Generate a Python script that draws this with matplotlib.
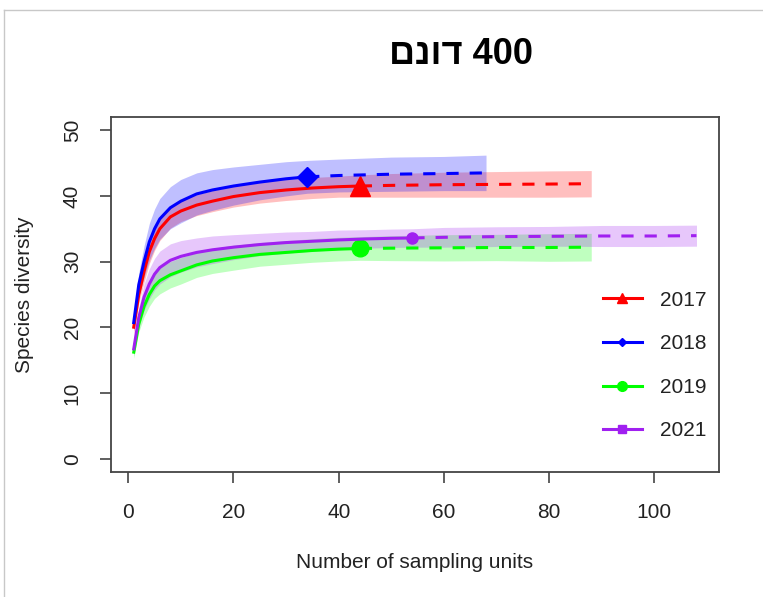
import matplotlib
matplotlib.use("Agg")
import matplotlib.pyplot as plt
from matplotlib.lines import Line2D

plt.rcParams['font.family'] = ['Liberation Sans', 'DejaVu Sans']

title_text = "םנוד 400"   # visual order of "400 דונם"
xlabel = "Number of sampling units"
ylabel = "Species diversity"
xticks = [0, 20, 40, 60, 80, 100]
yticks = [0, 10, 20, 30, 40, 50]

years = ["2017", "2018", "2019", "2021"]
colors = ["#FF0000", "#0000FF", "#00FF00", "#A020F0"]
observed_m = [44, 34, 44, 54]

x_2017 = [1, 2, 3, 4, 5, 6, 8, 10, 13, 16, 20, 25, 30, 35, 40, 44, 50, 60, 70, 80, 88]
y_2017 = [19.8, 25.0, 28.5, 31.5, 33.5, 35.0, 36.8, 37.7, 38.6, 39.2, 39.9, 40.5, 40.9, 41.2, 41.4, 41.5, 41.6, 41.7, 41.75, 41.8, 41.85]
lo_2017 = [19.0, 23.7, 26.9, 29.7, 31.7, 33.2, 35.1, 36.1, 37.0, 37.6, 38.3, 38.9, 39.3, 39.6, 39.8, 39.8, 39.8, 39.8, 39.8, 39.8, 39.85]
hi_2017 = [20.6, 26.3, 30.1, 33.3, 35.3, 36.8, 38.5, 39.3, 40.2, 40.8, 41.5, 42.1, 42.5, 42.8, 43.0, 43.2, 43.4, 43.6, 43.7, 43.8, 43.85]

x_2018 = [1, 2, 3, 4, 5, 6, 8, 10, 13, 16, 20, 25, 30, 34, 40, 50, 60, 68]
y_2018 = [20.5, 26.5, 30.0, 33.0, 35.0, 36.5, 38.2, 39.2, 40.3, 40.9, 41.5, 42.1, 42.6, 42.9, 43.1, 43.3, 43.4, 43.5]
lo_2018 = [19.5, 24.7, 27.6, 30.2, 32.0, 33.4, 35.0, 35.9, 37.1, 37.8, 38.6, 39.4, 40.0, 40.4, 40.6, 40.7, 40.8, 40.8]
hi_2018 = [21.5, 28.3, 32.4, 35.8, 38.0, 39.6, 41.4, 42.5, 43.5, 44.0, 44.4, 44.8, 45.2, 45.4, 45.6, 45.9, 46.0, 46.2]

x_2019 = [1, 2, 3, 4, 5, 6, 8, 10, 13, 16, 20, 25, 30, 35, 40, 44, 50, 60, 70, 80, 88]
y_2019 = [16.0, 20.5, 23.2, 25.0, 26.3, 27.1, 28.0, 28.6, 29.5, 30.1, 30.6, 31.1, 31.4, 31.7, 31.9, 32.0, 32.05, 32.1, 32.15, 32.15, 32.2]
lo_2019 = [15.3, 19.3, 21.6, 23.2, 24.4, 25.1, 26.0, 26.6, 27.6, 28.2, 28.7, 29.3, 29.6, 29.9, 30.1, 30.2, 30.15, 30.1, 30.15, 30.05, 30.1]
hi_2019 = [16.7, 21.7, 24.8, 26.8, 28.2, 29.1, 30.0, 30.6, 31.4, 32.0, 32.5, 32.9, 33.2, 33.5, 33.7, 33.8, 33.95, 34.1, 34.15, 34.25, 34.3]

x_2021 = [1, 2, 3, 4, 5, 6, 8, 10, 13, 16, 20, 25, 30, 35, 40, 45, 50, 54, 60, 70, 80, 90, 100, 108]
y_2021 = [16.5, 21.5, 24.6, 26.6, 28.1, 29.1, 30.2, 30.8, 31.4, 31.8, 32.2, 32.6, 32.9, 33.1, 33.3, 33.45, 33.55, 33.6, 33.7, 33.8, 33.85, 33.9, 33.9, 33.95]
lo_2021 = [15.7, 20.0, 22.6, 24.3, 25.7, 26.6, 27.7, 28.4, 29.2, 29.7, 30.3, 30.9, 31.3, 31.6, 31.8, 32.05, 32.15, 32.2, 32.2, 32.3, 32.35, 32.3, 32.3, 32.35]
hi_2021 = [17.3, 23.0, 26.6, 28.9, 30.5, 31.6, 32.7, 33.2, 33.6, 33.9, 34.1, 34.3, 34.5, 34.6, 34.8, 34.85, 34.95, 35.0, 35.2, 35.3, 35.35, 35.5, 35.5, 35.55]

series_x = [x_2017, x_2018, x_2019, x_2021]
series_y = [y_2017, y_2018, y_2019, y_2021]
series_lo = [lo_2017, lo_2018, lo_2019, lo_2021]
series_hi = [hi_2017, hi_2018, hi_2019, hi_2021]

plot_markers = ["^", "D", "o", "o"]
plot_msizes = [15, 10, 12, 8]
leg_markers = ["^", "D", "o", "s"]
leg_msizes = [7, 4.5, 7, 5.5]

fig = plt.figure(figsize=(7.63, 5.97), dpi=100)
ax = fig.add_axes([111/763, 1-472/597, (719-111)/763, (472-117)/597])

lw = 2.2
dash = (0, (4.0, 3.6))
for xs, ys, lo, hi, c, m, mk, ms in zip(series_x, series_y, series_lo, series_hi,
                                        colors, observed_m, plot_markers, plot_msizes):
    ax.fill_between(xs, lo, hi, color=c, alpha=0.25, linewidth=0)
    i = xs.index(m)
    ax.plot(xs[:i+1], ys[:i+1], color=c, lw=lw, solid_capstyle='butt')
    ax.plot(xs[i:], ys[i:], color=c, lw=lw, linestyle=dash)
    ax.plot([xs[i]], [ys[i]], marker=mk, markersize=ms, color=c, linestyle='none')

ax.set_xlim(-3.28, 112.28)
ax.set_ylim(-2, 52)
ax.set_xticks(xticks)
ax.set_yticks(yticks)
ax.set_xticklabels([str(t) for t in xticks])
ax.set_yticklabels([str(t) for t in yticks], rotation=90, va='center')

for s in ax.spines.values():
    s.set_color('#444444')
    s.set_linewidth(1.3)

ax.tick_params(axis='both', length=8, width=1.2, color='#444444',
               labelsize=15, labelcolor='#222222', direction='out')
ax.tick_params(axis='x', pad=14)
ax.tick_params(axis='y', pad=13)

ax.set_xlabel(xlabel, fontsize=15, color='#222222', labelpad=23)
ax.set_ylabel(ylabel, fontsize=15, color='#222222', labelpad=21)

handles = [Line2D([0], [0], color=c, lw=lw, marker=mk, markersize=ms)
           for c, mk, ms in zip(colors, leg_markers, leg_msizes)]
leg = ax.legend(handles, years, loc='center left', bbox_to_anchor=(0.795, 0.30),
                frameon=False, fontsize=15, handlelength=1.9, handletextpad=0.85,
                labelspacing=1.18, borderaxespad=0)
for t in leg.get_texts():
    t.set_color('#222222')

fig.text(461/763, 1-55/597, title_text, ha='center', va='center',
         fontsize=26, fontweight='bold',
         family=['Liberation Sans Narrow', 'Liberation Sans', 'DejaVu Sans'])

fig.add_artist(Line2D([4/763, 4/763], [0, 1-10/597], color='#c8c8c8', lw=1.0))
fig.add_artist(Line2D([4/763, 1], [1-10/597, 1-10/597], color='#c8c8c8', lw=1.0))

fig.savefig("out.png", dpi=100)
